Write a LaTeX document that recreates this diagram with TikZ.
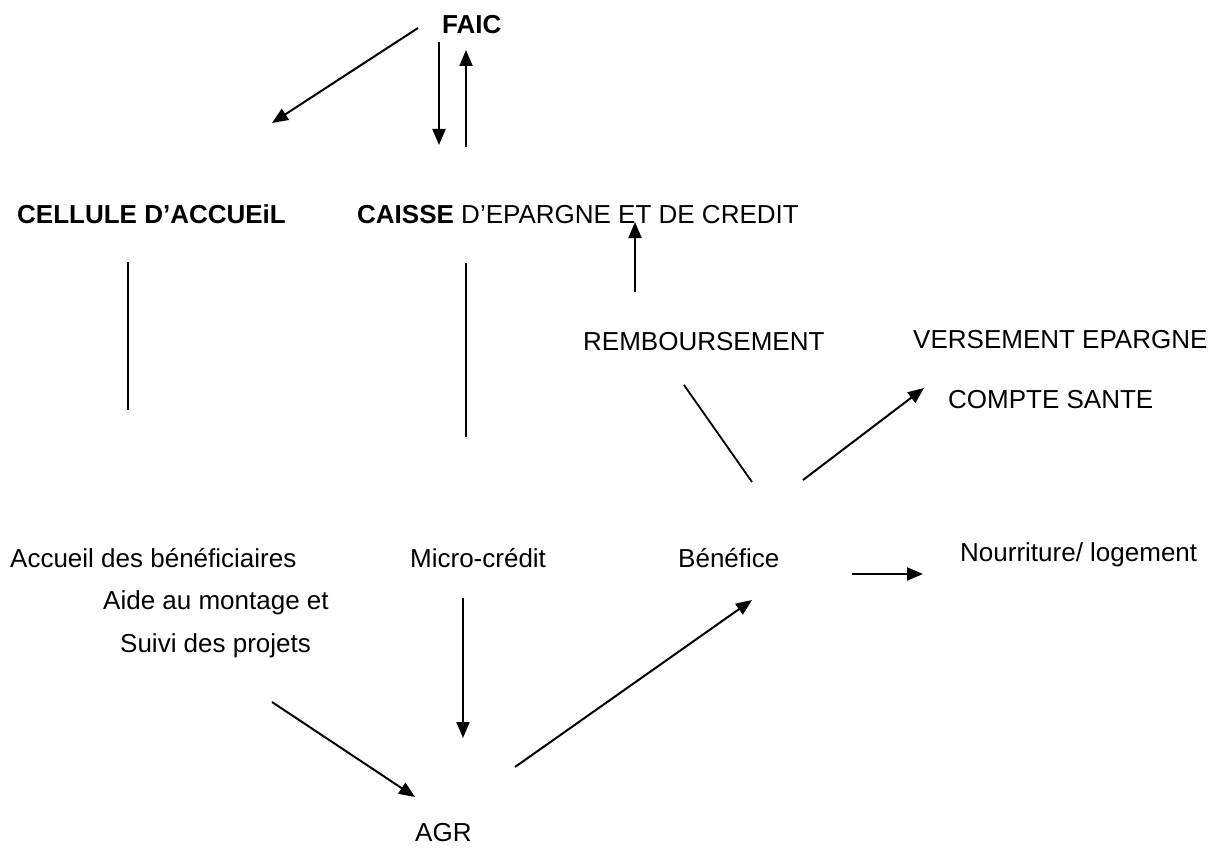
\documentclass[tikz,border=0pt]{standalone}
\usepackage{fontspec}
\setmainfont{Liberation Sans}
\usetikzlibrary{arrows.meta}

\begin{document}
\begin{tikzpicture}[x=1pt, y=-1pt, font=\fontsize{26}{31}\selectfont,
	lbl/.style={anchor=base west, inner sep=0pt},
	arr/.style={line width=2pt, -{Triangle[length=16pt,width=13pt]}},
	ln/.style={line width=1.8pt}]
	\useasboundingbox (0,0) rectangle (1227,848);
	% titles
	\node[lbl] (faic) at (442,34) {\bfseries FAIC};
	\node[lbl] (cellule) at (17,223) {\bfseries CELLULE D'ACCUEiL};
	\node[lbl] (caisse) at (357,223) {\textbf{CAISSE} D'EPARGNE ET DE CREDIT};
	\node[lbl] (remb) at (583,350) {REMBOURSEMENT};
	\node[lbl] (versement) at (913,348) {VERSEMENT EPARGNE};
	\node[lbl] (compte) at (948,408) {COMPTE SANTE};
	% second row
	\node[lbl] (accueil) at (10,567) {Accueil des bénéficiaires};
	\node[lbl] (aide) at (103,609) {Aide au montage et};
	\node[lbl] (suivi) at (120,652) {Suivi des projets};
	\node[lbl] (micro) at (410,567) {Micro-crédit};
	\node[lbl] (benef) at (678,567) {Bénéfice};
	\node[lbl] (nourr) at (960,561) {Nourriture/ logement};
	\node[lbl] (agr) at (415,841) {AGR};
	% connector ends
	\coordinate (faicA) at (418,28);   \coordinate (celluleA) at (272,123);
	\coordinate (faicB) at (439,42);   \coordinate (caisseB) at (439,145);
	\coordinate (caisseC) at (466,147); \coordinate (faicC) at (466,50);
	\coordinate (celluleD) at (128,262); \coordinate (accueilD) at (128,410);
	\coordinate (caisseE) at (466,263); \coordinate (microE) at (466,437);
	\coordinate (rembF) at (635,292);  \coordinate (caisseF) at (635,222);
	\coordinate (rembG) at (684,385);  \coordinate (benefG) at (752,482);
	\coordinate (benefH) at (803,480); \coordinate (compteH) at (924,388);
	\coordinate (benefI) at (852,574); \coordinate (nourrI) at (923,574);
	\coordinate (agrJ) at (515,767);   \coordinate (benefJ) at (752,600);
	\coordinate (microK) at (463,598); \coordinate (agrK) at (463,738);
	\coordinate (suiviL) at (272,702); \coordinate (agrL) at (415,797);
	\draw[arr] (faicA) -- (celluleA);
	\draw[arr] (faicB) -- (caisseB);
	\draw[arr] (caisseC) -- (faicC);
	\draw[ln] (celluleD) -- (accueilD);
	\draw[ln] (caisseE) -- (microE);
	\draw[arr] (rembF) -- (caisseF);
	\draw[ln] (rembG) -- (benefG);
	\draw[arr] (benefH) -- (compteH);
	\draw[arr] (benefI) -- (nourrI);
	\draw[arr] (agrJ) -- (benefJ);
	\draw[arr] (microK) -- (agrK);
	\draw[arr] (suiviL) -- (agrL);
\end{tikzpicture}
\end{document}
